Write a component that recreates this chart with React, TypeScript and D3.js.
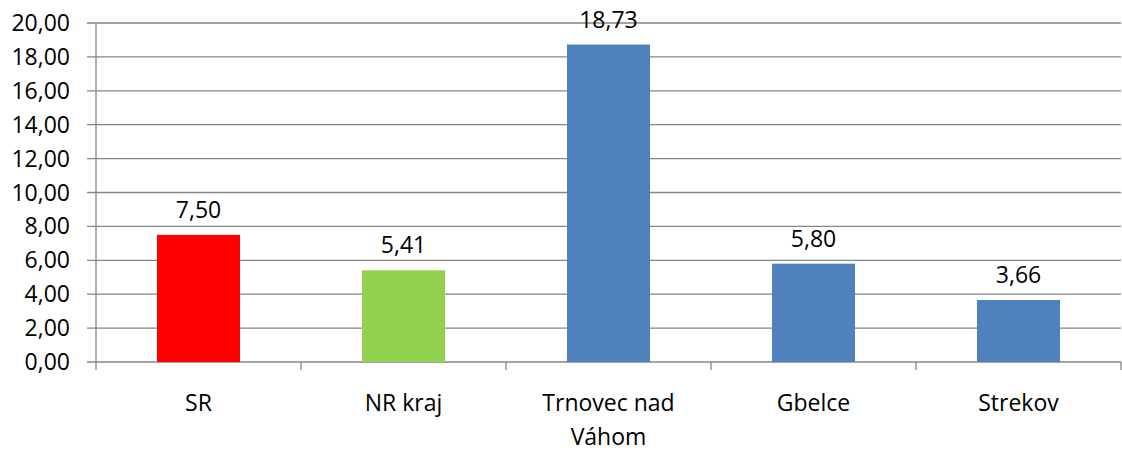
import React from "react";
import * as d3 from "d3";

const categories = ["SR", "NR kraj", "Trnovec nad Váhom", "Gbelce", "Strekov"];
const categoryLines = [["SR"], ["NR kraj"], ["Trnovec nad", "Váhom"], ["Gbelce"], ["Strekov"]];
const values = [7.5, 5.41, 18.73, 5.8, 3.66];
const colors = ["#FF0000", "#92D050", "#4F81BD", "#4F81BD", "#4F81BD"];
const yTicks = [0, 2, 4, 6, 8, 10, 12, 14, 16, 18, 20];

const W = 1122;
const H = 452;
const left = 96;
const right = 1121;
const top = 23;
const bottom = 362;
const font = "'Open Sans', sans-serif";
const fs = 23;
const fmt = (v: number) => v.toFixed(2).replace(".", ",");

export default function App() {
  const x = d3.scaleBand<string>().domain(categories).range([left, right]).paddingInner(0.595).paddingOuter(0.2975);
  const y = d3.scaleLinear().domain([0, 20]).range([bottom, top]);
  const band = (right - left) / categories.length;
  const grid = "#868686";
  return (
    <svg width={W} height={H} style={{ position: "absolute", left: 0, top: 0 }}>
      <rect width={W} height={H} fill="#fff" />
      {yTicks.map((t) => (
        <g key={t}>
          <line x1={87} x2={right} y1={y(t)} y2={y(t)} stroke={grid} strokeWidth={1.3} />
          <text x={70} y={y(t) + 8} textAnchor="end" fontFamily={font} fontSize={fs} fill="#000">
            {fmt(t)}
          </text>
        </g>
      ))}
      <line x1={left} x2={left} y1={top} y2={bottom} stroke={grid} strokeWidth={1.3} />
      {d3.range(categories.length + 1).map((i) => (
        <line key={i} x1={left + i * band} x2={left + i * band} y1={bottom} y2={bottom + 8} stroke={grid} strokeWidth={1.3} />
      ))}
      {categories.map((c, i) => (
        <g key={c}>
          <rect x={x(c)} y={y(values[i])} width={x.bandwidth()} height={bottom - y(values[i])} fill={colors[i]} />
          <text x={(x(c) as number) + x.bandwidth() / 2} y={y(values[i]) - 17} textAnchor="middle" fontFamily={font} fontSize={fs} fill="#000">
            {fmt(values[i])}
          </text>
          {categoryLines[i].map((ln, j) => (
            <text key={j} x={(x(c) as number) + x.bandwidth() / 2} y={411 + j * 34} textAnchor="middle" fontFamily={font} fontSize={fs} fill="#000">
              {ln}
            </text>
          ))}
        </g>
      ))}
    </svg>
  );
}
